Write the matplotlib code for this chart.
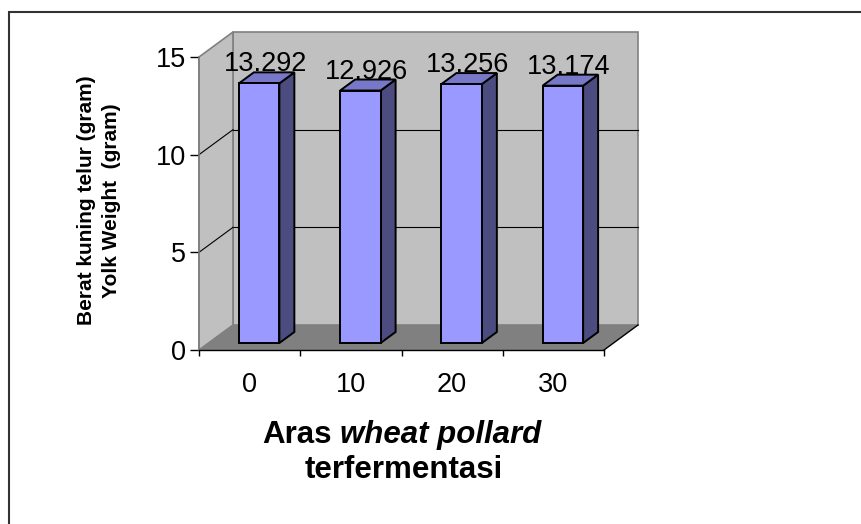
import matplotlib
matplotlib.use("Agg")
import matplotlib.pyplot as plt
from matplotlib.patches import Polygon, Rectangle
from matplotlib.lines import Line2D
from matplotlib.transforms import IdentityTransform

# ---- data ----
categories = ["0", "10", "20", "30"]
values = [13.292, 12.926, 13.256, 13.174]
value_labels = ["13.292", "12.926", "13.256", "13.174"]
y_ticks = [0, 5, 10, 15]
y_label_lines = ["Berat kuning telur (gram)", "Yolk Weight  (gram)"]
x_label_plain = "Aras"
x_label_italic = "wheat pollard"
x_label_line2 = "terfermentasi"

FONT = "Liberation Sans"
W, H = 862, 524
fig = plt.figure(figsize=(W / 100, H / 100), dpi=100)
fig.patch.set_facecolor("white")
ax = fig.add_axes([199 / W, (H - 350) / H, 405 / W, 293 / H])
n = len(categories)
ax.set_xlim(-0.5, n - 0.5)
ax.set_ylim(0, 15)
ax.patch.set_visible(False)

DX, DY = 34, 25  # depth offset in pixels
ident = IdentityTransform()


def P(x, y, d):
    px, py = ax.transData.transform((x, y))
    return (px + DX * d, py + DY * d)


def poly(pts, fc, ec="none", lw=0.0, z=1.0):
    p = Polygon(pts, closed=True, facecolor=fc, edgecolor=ec, linewidth=lw,
                transform=ident, zorder=z, clip_on=False, joinstyle="miter")
    ax.add_artist(p)


def line(p0, p1, color, lw, z):
    l = Line2D([p0[0], p1[0]], [p0[1], p1[1]], color=color, linewidth=lw,
               transform=ident, zorder=z, clip_on=False)
    ax.add_artist(l)


x0, x1 = -0.5, n - 0.5
ymax = 15
# back wall
poly([P(x0, 0, 1), P(x1, 0, 1), P(x1, ymax, 1), P(x0, ymax, 1)], "#C0C0C0", "#808080", 1.2, 0.5)
# side wall
poly([P(x0, 0, 0), P(x0, 0, 1), P(x0, ymax, 1), P(x0, ymax, 0)], "#C0C0C0", "#808080", 1.2, 0.5)
# floor
poly([P(x0, 0, 0), P(x1, 0, 0), P(x1, 0, 1), P(x0, 0, 1)], "#808080", "none", 0, 0.6)
line(P(x1, 0, 0), P(x1, 0, 1), "black", 1.0, 0.8)

# gridlines
for yt in y_ticks[1:-1]:
    line(P(x0, yt, 1), P(x1, yt, 1), "black", 0.8, 0.7)
    line(P(x0, yt, 0), P(x0, yt, 1), "black", 0.8, 0.7)

# bars
hw, d0, d1 = 0.2, 0.28, 0.72
for i, v in enumerate(values):
    poly([P(i + hw, 0, d0), P(i + hw, 0, d1), P(i + hw, v, d1), P(i + hw, v, d0)],
         "#4C4C80", "black", 1.4, 2.0)
    poly([P(i - hw, v, d0), P(i + hw, v, d0), P(i + hw, v, d1), P(i - hw, v, d1)],
         "#7878C8", "black", 1.4, 2.0)
    poly([P(i - hw, 0, d0), P(i + hw, 0, d0), P(i + hw, v, d0), P(i - hw, v, d0)],
         "#9999FF", "black", 1.4, 2.1)
    lx, ly = P(i, v, 0.5)
    ax.text(lx - 1.5, ly + 6.5, value_labels[i], transform=ident, ha="center",
            va="baseline", fontsize=19.5, family=FONT, zorder=3, clip_on=False)

# axes
for s in ["top", "right"]:
    ax.spines[s].set_visible(False)
ax.spines["bottom"].set_color("black")
ax.spines["bottom"].set_linewidth(1.0)
ax.spines["left"].set_color("#808080")
ax.spines["left"].set_linewidth(1.2)

ax.set_yticks(y_ticks)
ax.set_yticklabels([str(t) for t in y_ticks], fontsize=19.5, family=FONT)
ax.tick_params(axis="y", length=6.5, width=1.0, color="black", pad=3)
ax.set_xticks(range(n))
ax.set_xticklabels(categories, fontsize=19.5, family=FONT)
ax.set_xticks([k - 0.5 for k in range(n + 1)], minor=True)
ax.tick_params(axis="x", which="major", length=0, pad=15.5)
ax.tick_params(axis="x", which="minor", length=4.5, width=1.0, color="black")

# y label (two lines)
fig.text(87 / W, (H - 200) / H, y_label_lines[0], rotation=90, ha="center", va="center",
         fontsize=15, fontweight="bold", family=FONT)
fig.text(112 / W, (H - 201) / H, y_label_lines[1], rotation=90, ha="center", va="center",
         fontsize=15, fontweight="bold", family=FONT)

# x label
xs = 22.5
r = fig.canvas.get_renderer()
t1 = fig.text(0, 0, x_label_plain, fontsize=xs, fontweight="bold", family=FONT,
              transform=ident, ha="left", va="baseline")
t2 = fig.text(0, 0, x_label_italic, fontsize=xs, fontweight="bold", style="italic",
              family=FONT, transform=ident, ha="left", va="baseline")
w1 = t1.get_window_extent(r).width
w2 = t2.get_window_extent(r).width
sp = 0.278 * xs * 100 / 72
total = w1 + sp + w2
cx = 401.5
start = cx - total / 2
base1 = H - 443
t1.set_position((start, base1))
t2.set_position((start + w1 + sp, base1))
fig.text(cx + 2, H - 478, x_label_line2, fontsize=xs, fontweight="bold", family=FONT,
         transform=ident, ha="center", va="baseline")

# outer border
border = Rectangle((9, -20), W + 20, (H - 11.7) + 20, transform=ident, fill=False,
                   edgecolor="#333333", linewidth=1.5, clip_on=False)
fig.add_artist(border)

fig.savefig("out.png", dpi=100)
